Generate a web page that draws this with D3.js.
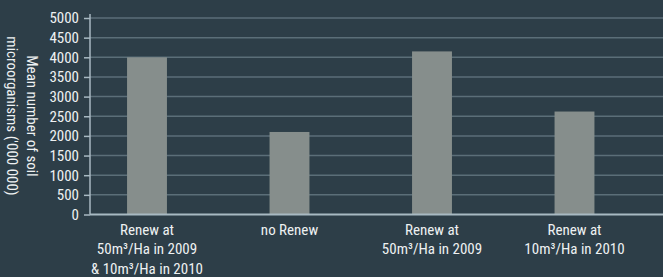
<!DOCTYPE html>
<html>
<head>
<meta charset="utf-8">
<script src="https://cdn.jsdelivr.net/npm/d3@7"></script>
<style>
  html, body { margin: 0; padding: 0; background: #2d3e48; }
  svg { display: block; }
</style>
</head>
<body>
<div id="chart"></div>
<script>
// data
const categories = [
    ['Renew at', '50m³/Ha in 2009', '& 10m³/Ha in 2010'],
    ['no Renew'],
    ['Renew at', '50m³/Ha in 2009'],
    ['Renew at', '10m³/Ha in 2010']
];
const values = [4000, 2100, 4150, 2620];
const yTicks = [0, 500, 1000, 1500, 2000, 2500, 3000, 3500, 4000, 4500, 5000];
const yTitle = ['Mean number of soil', 'microorganisms (\'000 000)'];

const props = {
    width: 663,
    height: 277,
    bg: '#2d3e48',
    barColor: '#868e8c',
    gridColor: '#5b6e78',
    axisColor: '#a8b9c2',
    fontColor: '#eef1f2',
    font: '"Roboto Condensed", "Liberation Sans Narrow", sans-serif'
};

const svg = d3.select('#chart').append('svg')
    .attr('width', props.width)
    .attr('height', props.height)
    .style('font-family', props.font);

svg.append('rect')
    .attr('width', props.width)
    .attr('height', props.height)
    .attr('fill', props.bg);

const axisX = 90;
const x = d3.scaleBand()
    .domain(d3.range(categories.length))
    .range([75.75, 645.75])
    .paddingInner(0.72)
    .paddingOuter(0.36);
const y = d3.scaleLinear()
    .domain([0, 5000])
    .range([214.5, 18]);

// gridlines
svg.append('g')
    .selectAll('line')
    .data(yTicks.filter(d => d > 0))
    .join('line')
    .attr('x1', axisX)
    .attr('x2', props.width)
    .attr('y1', d => y(d))
    .attr('y2', d => y(d))
    .attr('stroke', props.gridColor)
    .attr('stroke-width', 1.5);

// bars
svg.append('g')
    .selectAll('rect')
    .data(values)
    .join('rect')
    .attr('x', (d, i) => x(i))
    .attr('width', x.bandwidth())
    .attr('y', d => y(d))
    .attr('height', d => y(0) - y(d))
    .attr('fill', props.barColor);

// y axis
const yAxis = svg.append('g')
    .attr('transform', `translate(${axisX},0)`)
    .call(d3.axisLeft(y).tickValues(yTicks).tickFormat(d3.format('d'))
        .tickSize(6).tickPadding(5).tickSizeOuter(0));
yAxis.select('.domain')
    .attr('d', `M0,${y(5000) - 4}V${y(0)}`)
    .attr('stroke', props.axisColor)
    .attr('stroke-width', 1.5);
yAxis.selectAll('.tick line')
    .attr('stroke', props.axisColor)
    .attr('stroke-width', 1.5);
yAxis.selectAll('.tick text')
    .attr('fill', props.fontColor)
    .style('font-family', props.font)
    .style('font-size', '15px');

// x baseline
svg.append('line')
    .attr('x1', axisX)
    .attr('x2', props.width)
    .attr('y1', y(0))
    .attr('y2', y(0))
    .attr('stroke', props.axisColor)
    .attr('stroke-width', 2);

// category labels
const labels = svg.append('g')
    .selectAll('text')
    .data(categories)
    .join('text')
    .attr('text-anchor', 'middle')
    .attr('fill', props.fontColor)
    .style('font-size', '15px')
    .attr('transform', (d, i) => `translate(${x(i) + x.bandwidth() / 2},235)`);
labels.selectAll('tspan')
    .data(d => d)
    .join('tspan')
    .attr('x', 0)
    .attr('y', (d, i) => i * 19.4)
    .text(d => d);

// y title, rotated clockwise
const title = svg.append('text')
    .attr('transform', 'translate(27,116) rotate(90)')
    .attr('text-anchor', 'middle')
    .attr('fill', props.fontColor)
    .style('font-size', '15px');
title.selectAll('tspan')
    .data(yTitle)
    .join('tspan')
    .attr('x', 0)
    .attr('y', (d, i) => i * 19.6)
    .text(d => d);
</script>
</body>
</html>
